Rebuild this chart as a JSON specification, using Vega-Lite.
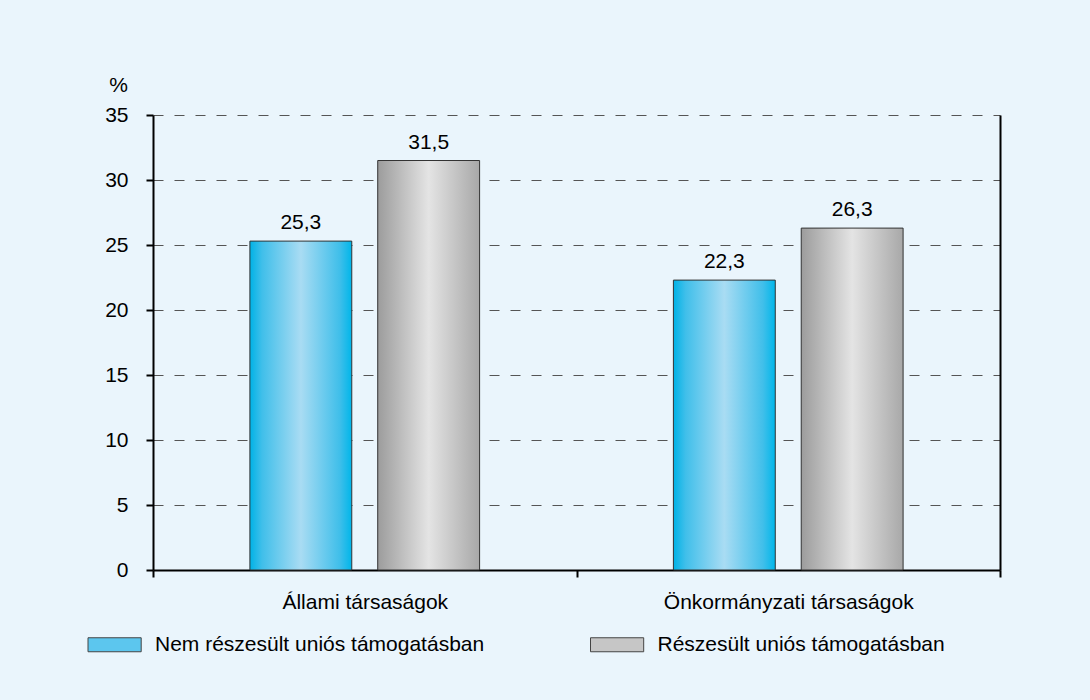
{
  "$schema": "https://vega.github.io/schema/vega-lite/v6.json",
  "width": 847,
  "height": 455,
  "autosize": {"type": "none"},
  "padding": {"left": 153, "top": 115, "right": 90, "bottom": 130},
  "background": "#eaf5fc",
  "config": {
    "font": "Liberation Sans",
    "view": {"stroke": null},
    "locale": {"number": {"decimal": ",", "thousands": " ", "grouping": [3], "currency": ["", " Ft"]}}
  },
  "data": {
    "values": [
      {"group": "Állami társaságok", "series": "Nem részesült uniós támogatásban", "value": 25.3},
      {"group": "Állami társaságok", "series": "Részesült uniós támogatásban", "value": 31.5},
      {"group": "Önkormányzati társaságok", "series": "Nem részesült uniós támogatásban", "value": 22.3},
      {"group": "Önkormányzati társaságok", "series": "Részesült uniós támogatásban", "value": 26.3}
    ]
  },
  "encoding": {
    "x": {
      "field": "group", "type": "nominal", "sort": null, "title": null,
      "scale": {"paddingInner": 0, "paddingOuter": 0},
      "axis": {
        "labelAngle": 0, "tickBand": "extent", "ticks": true, "tickSize": 7, "tickWidth": 2,
        "tickColor": "#000", "domainColor": "#000", "domainWidth": 2,
        "labelFontSize": 21, "labelColor": "#000", "labelPadding": 14, "labelLimit": 500, "grid": false
      }
    },
    "xOffset": {
      "field": "series", "type": "nominal", "sort": null,
      "scale": {"paddingInner": 0.203, "paddingOuter": 0.758}
    },
    "y": {
      "field": "value", "type": "quantitative",
      "scale": {"domain": [0, 35], "nice": false}
    }
  },
  "layer": [
    {
      "mark": {"type": "bar", "opacity": 0},
      "encoding": {
        "y": {"field": "value", "type": "quantitative", "axis": null},
        "fill": {
          "field": "series", "type": "nominal", "sort": null,
          "scale": {"range": ["#5cc6ee", "#c6c6c6"]},
          "legend": {
            "title": null, "orient": "none", "legendX": -68.5, "legendY": 519,
            "direction": "horizontal", "columnPadding": 102.5,
            "symbolType": "M-1,-1H6.6V1H-1Z", "symbolSize": 196,
            "symbolStrokeColor": "#444", "symbolStrokeWidth": 1, "symbolOpacity": 1,
            "labelOffset": 49.5, "labelFontSize": 21, "labelColor": "#000", "labelLimit": 600
          }
        }
      }
    },
    {
      "transform": [{"filter": "datum.series == 'Nem részesült uniós támogatásban'"}],
      "mark": {
        "type": "bar", "stroke": "#333", "strokeWidth": 1,
        "fill": {"gradient": "linear", "x1": 0, "y1": 0, "x2": 1, "y2": 0,
          "stops": [
            {"offset": 0, "color": "#00b2e6"},
            {"offset": 0.12, "color": "#40bfea"},
            {"offset": 0.5, "color": "#a9dcf3"},
            {"offset": 0.88, "color": "#40bfea"},
            {"offset": 1, "color": "#00b6ea"}
          ]}
      },
      "encoding": {
        "y": {
          "field": "value", "type": "quantitative",
          "scale": {"domain": [0, 35], "nice": false},
          "axis": {
            "orient": "left",
            "values": [0, 5, 10, 15, 20, 25, 30, 35], "grid": true, "gridDash": [10, 11],
            "gridColor": "#555", "gridWidth": 1, "domainColor": "#000", "domainWidth": 2,
            "tickColor": "#000", "tickWidth": 2, "tickSize": 7, "labelFontSize": 21,
            "labelColor": "#000", "labelPadding": 18, "title": "%", "titleAngle": 0,
            "titleX": -35, "titleY": -30, "titleFontSize": 21, "titleFontWeight": "normal",
            "titleAlign": "center", "titleBaseline": "middle", "titleColor": "#000"
          }
        }
      }
    },
    {
      "transform": [{"filter": "datum.series == 'Részesült uniós támogatásban'"}],
      "mark": {
        "type": "bar", "stroke": "#333", "strokeWidth": 1,
        "fill": {"gradient": "linear", "x1": 0, "y1": 0, "x2": 1, "y2": 0,
          "stops": [
            {"offset": 0, "color": "#9c9c9c"},
            {"offset": 0.5, "color": "#e4e4e4"},
            {"offset": 1, "color": "#a8a8a8"}
          ]}
      },
      "encoding": {
        "y": {"field": "value", "type": "quantitative", "axis": null}
      }
    },
    {
      "mark": {"type": "text", "baseline": "alphabetic", "dy": -12, "fontSize": 21, "color": "#000"},
      "encoding": {
        "y": {
          "field": "value", "type": "quantitative",
          "axis": {
            "orient": "right", "labels": false, "ticks": false, "grid": false, "title": null,
            "domainColor": "#000", "domainWidth": 2
          }
        },
        "text": {"field": "value", "type": "quantitative", "format": ".1f"}
      }
    }
  ],
  "resolve": {"axis": {"y": "independent"}}
}
